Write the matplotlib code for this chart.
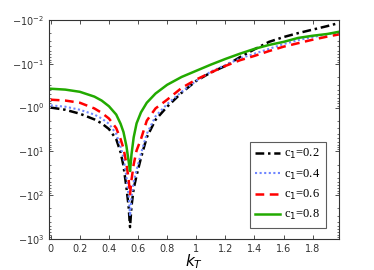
import numpy as np
import matplotlib
matplotlib.use("Agg")
import matplotlib.pyplot as plt
from matplotlib.ticker import FixedLocator, FuncFormatter, LogLocator, NullFormatter

# k_T sample points
k = [0.0, 0.1, 0.2, 0.3, 0.35, 0.4, 0.45, 0.48, 0.5, 0.52, 0.535, 0.545, 0.555,
     0.57, 0.59, 0.62, 0.66, 0.72, 0.8, 0.9, 1.0, 1.1, 1.2, 1.3, 1.4, 1.5, 1.6,
     1.7, 1.8, 1.9, 1.98]

# log10 of |value| (values are negative)
exp_c02 = [0.0, 0.05, 0.14, 0.27, 0.36, 0.49, 0.72, 1.02, 1.33, 1.82, 2.25, 2.73, 2.25,
           1.85, 1.55, 1.15, 0.68, 0.28, -0.02, -0.34, -0.61, -0.8, -0.95, -1.15,
           -1.33, -1.5, -1.61, -1.7, -1.78, -1.86, -1.93]
exp_c04 = [-0.05, -0.02, 0.05, 0.16, 0.25, 0.37, 0.6, 0.9, 1.15, 1.58, 2.0, 2.48, 2.05,
           1.7, 1.42, 1.05, 0.6, 0.2, -0.08, -0.36, -0.61, -0.82, -0.97, -1.12,
           -1.23, -1.34, -1.45, -1.54, -1.61, -1.67, -1.72]
exp_c06 = [-0.18, -0.16, -0.11, 0.02, 0.12, 0.25, 0.47, 0.72, 0.93, 1.28, 1.63, 1.98, 1.65,
           1.3, 0.98, 0.72, 0.3, 0.02, -0.18, -0.45, -0.64, -0.8, -0.95, -1.08,
           -1.18, -1.29, -1.39, -1.47, -1.55, -1.62, -1.67]
exp_c08 = [-0.43, -0.41, -0.36, -0.25, -0.16, -0.03, 0.16, 0.37, 0.56, 0.88, 1.22, 1.45, 1.07,
           0.68, 0.36, 0.11, -0.11, -0.32, -0.52, -0.70, -0.84, -0.98, -1.11, -1.23,
           -1.34, -1.43, -1.50, -1.59, -1.64, -1.68, -1.73]

labels = ["c$_1$=0.2", "c$_1$=0.4", "c$_1$=0.6", "c$_1$=0.8"]
xticks = [0, 0.2, 0.4, 0.6, 0.8, 1.0, 1.2, 1.4, 1.6, 1.8]
ydecades = [-2, -1, 0, 1, 2, 3]

values = [-10.0 ** np.array(e) for e in (exp_c02, exp_c04, exp_c06, exp_c08)]

fig = plt.figure(figsize=(3.74, 2.70), dpi=100)
ax = fig.add_axes([0.131, 0.115, 0.775, 0.811])

styles = [
    dict(color="black", linestyle=(0, (3.5, 1.5, 1, 1.5)), linewidth=1.8),
    dict(color="#6f86ff", linestyle=(0, (1, 1.2)), linewidth=1.5),
    dict(color="#ff0000", linestyle=(0, (3.5, 2.2)), linewidth=1.8),
    dict(color="#22aa00", linestyle="-", linewidth=1.8),
]
for v, lab, st in zip(values, labels, styles):
    ax.plot(k, -v, label=lab, **st)

ax.set_yscale("log")
ax.set_ylim(1e3, 1e-2)
ax.set_xlim(-0.012, 1.98)

ax.xaxis.set_major_locator(FixedLocator(xticks))
ax.xaxis.set_major_formatter(FuncFormatter(lambda x, p: "%g" % x))
ax.yaxis.set_major_locator(FixedLocator([10.0 ** d for d in ydecades]))
ax.yaxis.set_major_formatter(FuncFormatter(
    lambda y, p: r"$\mathregular{-10^{%d}}$" % int(round(np.log10(y)))))
ax.yaxis.set_minor_locator(LogLocator(base=10, subs=np.arange(2, 10), numticks=20))
ax.yaxis.set_minor_formatter(NullFormatter())

ax.tick_params(which="both", direction="in", top=True, right=True,
               labelsize=7, colors="#333333", labelcolor="#333333")
ax.tick_params(which="major", length=3, width=0.6)
ax.tick_params(which="minor", length=1.5, width=0.5)
for s in ax.spines.values():
    s.set_linewidth(0.8)
    s.set_color("#333333")

ax.set_xlabel(r"$k_T$", fontsize=11, labelpad=-1)

leg = ax.legend(loc="lower right", bbox_to_anchor=(0.955, 0.05),
                borderaxespad=0.0,
                prop={"family": "Liberation Serif", "size": 9},
                frameon=True, fancybox=False, edgecolor="#333333",
                handlelength=2.0, handletextpad=0.3, borderpad=0.45,
                labelspacing=0.5)
leg.get_frame().set_linewidth(0.8)

fig.savefig("out.png", dpi=100)
